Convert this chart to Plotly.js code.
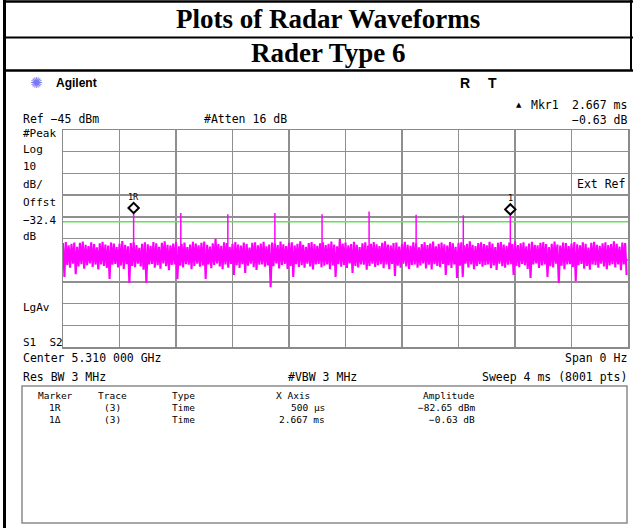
<!DOCTYPE html>
<html><head><meta charset="utf-8">
<script src="https://cdn.plot.ly/plotly-3.0.1.min.js"></script>
<style>html,body{margin:0;padding:0;background:#fff;}#chart{width:633px;height:528px;}</style>
</head><body><div id="chart"></div>
<script>
// ---- data ----
const sweepMs = [0, 4];
const ampRange = [-145, -45];
const displayLine = -87.3;
const pulseTimes = [0.500, 0.834, 1.167, 1.500, 1.834, 2.167, 2.500, 2.834, 3.167];
const pulsePeaks = [-82.65, -83.2, -83.8, -83.2, -83.8, -82.6, -84.0, -84.3, -83.28];
const pulseBase = -101;
const markerTimes = [0.500, 3.167];
const markerAmps = [-82.65, -83.28];
const markerLabels = ['1R', '1'];
const noiseTop = [
-97.1,-96.6,-98.2,-97.4,-96.9,-98.8,-97.0,-96.4,-97.9,-98.5,
-96.8,-97.6,-99.1,-97.2,-96.5,-97.8,-98.3,-96.9,-97.3,-98.9,
-97.5,-96.2,-97.9,-98.6,-97.1,-96.7,-98.0,-99.3,-97.4,-96.8,
-97.7,-98.4,-96.6,-97.2,-98.8,-97.0,-96.3,-97.9,-98.2,-97.3,
-96.7,-98.6,-97.5,-96.9,-99.0,-97.8,-96.5,-97.3,-98.1,-97.0,
-96.4,-97.9,-98.7,-97.2,-95.2,-97.6,-98.4,-96.8,-97.1,-98.9,
-97.4,-96.6,-97.8,-98.3,-96.9,-97.5,-99.2,-97.0,-96.7,-98.1,
-97.3,-96.5,-98.6,-97.8,-96.9,-97.2,-98.0,-96.4,-97.7,-98.5,
-97.0,-96.8,-98.2,-97.4,-96.3,-97.9,-98.8,-97.1,-96.6,-97.6,
-98.4,-97.2,-96.7,-98.0,-97.5,-96.4,-97.8,-98.6,-95.2,-97.3,
-96.9,-98.1,-97.6,-96.5,-97.9,-99.0,-97.2,-96.8,-98.3,-97.4,
-96.6,-97.7,-98.5,-97.0,-96.3,-97.8,-98.2,-97.1,-96.9,-98.7,
-97.4,-96.5,-97.9,-98.4,-96.8,-97.2,-99.1,-97.6,-96.7,-98.0,
-97.3,-96.4,-98.6,-97.5,-96.9,-97.7,-98.3,-96.6,-97.2,-98.8,
-97.0,-96.7,-98.1,-97.4,-96.3,-97.9,-98.5,-97.1,-96.8,-97.6,
-98.2,-96.5,-97.3,-98.9,-97.0,-96.6,-97.8,-98.4,-96.9,-97.5,
-96.4,-98.0,-97.2,-96.8,-98.6,-97.3,-96.5,-97.9,-98.2,-97.0,
-96.7,-97.6,-99.0,-97.4,-96.4,-97.8,-98.3,-96.9,-97.1,-98.5,
-97.3,-96.6,-97.7,-98.1,-96.8,-97.5,-99.2,-97.0,-96.5,-97.9,
-98.4,-97.2,-96.7,-98.0,-97.6,-96.3,-97.4,-98.7,-96.9,-97.1];
const noiseBottom = [
-112.7,-107.2,-108.4,-106.6,-111.4,-107.9,-106.8,-108.9,-107.3,-106.5,
-108.1,-107.0,-109.3,-106.9,-107.6,-108.6,-113.7,-107.1,-106.7,-108.3,
-107.4,-109.0,-106.8,-115.5,-107.7,-108.2,-106.6,-107.9,-109.4,-115.5,
-107.0,-106.7,-108.5,-107.3,-108.9,-106.5,-107.8,-109.6,-107.2,-106.9,
-113.7,-107.5,-108.3,-106.8,-107.1,-109.2,-107.6,-106.6,-108.0,-107.4,
-113.7,-106.9,-108.7,-107.2,-106.5,-107.9,-109.1,-107.0,-108.4,-106.7,
-111.8,-107.3,-108.6,-106.8,-110.9,-107.5,-106.6,-108.2,-109.5,-107.1,
-106.9,-108.0,-107.4,-117.4,-107.8,-106.5,-108.8,-107.2,-106.7,-109.0,
-107.6,-112.7,-106.8,-108.1,-107.3,-108.5,-106.6,-107.9,-109.3,-107.0,
-106.7,-108.2,-107.5,-106.9,-109.1,-107.4,-112.7,-106.8,-108.0,-107.2,
-108.6,-106.5,-110.9,-107.7,-108.3,-106.9,-107.1,-109.4,-107.6,-106.6,
-108.1,-107.3,-106.8,-108.7,-107.0,-109.2,-106.7,-112.3,-107.5,-108.4,
-106.6,-107.9,-109.0,-107.2,-106.9,-108.5,-107.4,-106.5,-108.8,-107.1,
-109.3,-106.8,-107.6,-108.2,-106.7,-111.8,-107.3,-108.6,-106.9,-113.2,
-107.5,-112.7,-106.6,-108.3,-107.0,-109.1,-107.7,-106.8,-108.0,-107.2,
-106.9,-108.7,-107.4,-109.5,-106.6,-107.8,-108.4,-107.1,-106.8,-111.8,
-107.6,-108.2,-106.7,-107.3,-109.0,-113.2,-107.0,-106.5,-108.6,-107.4,
-106.9,-112.7,-107.8,-108.3,-106.6,-115.5,-107.5,-109.2,-107.0,-106.8,
-108.1,-114.6,-107.3,-106.7,-108.9,-107.6,-109.4,-106.9,-107.2,-108.5,
-106.6,-107.9,-109.1,-107.4,-106.8,-108.3,-107.0,-109.6,-106.9,-111.8];

// ---- build traces ----
const n = noiseTop.length;
const dx = (sweepMs[1] - sweepMs[0]) / n;
const nx = [], ny = [];
for (let i = 0; i < n; i++) {
  nx.push(sweepMs[0] + i * dx); ny.push(noiseTop[i]);
  nx.push(sweepMs[0] + (i + 0.5) * dx); ny.push(noiseBottom[i]);
}
const px_ = [], py_ = [];
pulseTimes.forEach((t, i) => { px_.push(t, t, null); py_.push(pulseBase, pulsePeaks[i], null); });

const MAG = '#ff00ff';
const traces = [
  {x: sweepMs, y: [displayLine, displayLine], mode: 'lines', line: {color: '#66e05a', width: 1.6}, hoverinfo: 'skip'},
  {x: nx, y: ny, mode: 'lines', line: {color: MAG, width: 2.1}, hoverinfo: 'skip'},
  {x: px_, y: py_, mode: 'lines', line: {color: MAG, width: 1.5}, hoverinfo: 'skip'},
  {x: markerTimes, y: markerAmps.map(a => a + 1.7), mode: 'markers',
   marker: {symbol: 'diamond-open', size: 8, color: '#000', line: {width: 2, color: '#000'}}, hoverinfo: 'skip'}
];

// ---- pixel -> paper helpers for decorations ----
const L = 63, T = 130, W = 565, H = 217;
const pX = x => (x - L) / W;
const pY = y => (T + H - y) / H;
const MONO = 'DejaVu Sans Mono';
function txt(s, x, y, anchor, size, extra) {
  return Object.assign({text: s, xref: 'paper', yref: 'paper', x: pX(x), y: pY(y), xanchor: anchor,
    yanchor: 'middle', showarrow: false, borderpad: 0, font: {family: MONO, size: size || 11.5, color: '#000'}}, extra || {});
}
const ann = [
  txt('<b>Plots of Radar Waveforms</b>', 328, 19, 'center', 27, {font: {family: 'Liberation Serif', size: 27, color: '#000'}}),
  txt('<b>Rader Type 6</b>', 328, 53, 'center', 27, {font: {family: 'Liberation Serif', size: 27, color: '#000'}}),
  txt('✺', 36, 83, 'center', 15, {font: {family: 'DejaVu Sans', size: 15, color: '#7878f0'}}),
  txt('<b>Agilent</b>', 55, 83, 'left', 12, {font: {family: 'Liberation Sans', size: 12, color: '#000'}}),
  txt('<b>R</b>', 465, 83, 'center', 14, {font: {family: 'Liberation Sans', size: 14, color: '#000'}}),
  txt('<b>T</b>', 492.5, 83, 'center', 14, {font: {family: 'Liberation Sans', size: 14, color: '#000'}}),
  txt('▲', 519, 105, 'center', 7, {font: {family: 'DejaVu Sans', size: 7, color: '#000'}}),
  txt('Mkr1', 530, 105, 'left'),
  txt('2.667 ms', 628, 105, 'right'),
  txt('Ref −45 dBm', 22, 119, 'left'),
  txt('#Atten 16 dB', 203, 119, 'left'),
  txt('−0.63 dB', 628, 120, 'right'),
  txt('#Peak', 22, 133, 'left', 11),
  txt('Log', 22, 149, 'left', 11),
  txt('10', 22, 166, 'left', 11),
  txt('dB/', 22, 184, 'left', 11),
  txt('Offst', 22, 202, 'left', 11),
  txt('−32.4', 22, 220, 'left', 11),
  txt('dB', 22, 236, 'left', 11),
  txt('LgAv', 22, 307, 'left', 11),
  txt('S1  S2', 22, 342, 'left', 11),
  txt('Ext Ref', 626, 184, 'right'),
  txt('Center 5.310 000 GHz', 22, 358, 'left'),
  txt('Span 0 Hz', 628, 358, 'right'),
  txt('Res BW 3 MHz', 22, 377, 'left'),
  txt('#VBW 3 MHz', 287, 377, 'left'),
  txt('Sweep 4 ms (8001 pts)', 628, 377, 'right'),
  txt('Marker', 55, 395, 'center', 9.5),
  txt('Trace', 112, 395, 'center', 9.5),
  txt('Type', 183, 395, 'center', 9.5),
  txt('X Axis', 275, 395, 'left', 9.5),
  txt('Amplitude', 476, 395, 'right', 9.5),
  txt('1R', 55, 407, 'center', 9.5),
  txt('(3)', 112, 407, 'center', 9.5),
  txt('Time', 183, 407, 'center', 9.5),
  txt('500 µs', 326, 407, 'right', 9.5),
  txt('−82.65 dBm', 476, 407, 'right', 9.5),
  txt('1Δ', 55, 419, 'center', 9.5),
  txt('(3)', 112, 419, 'center', 9.5),
  txt('Time', 183, 419, 'center', 9.5),
  txt('2.667 ms', 326, 419, 'right', 9.5),
  txt('−0.63 dB', 476, 419, 'right', 9.5)
];
markerTimes.forEach((t, i) => ann.push({text: markerLabels[i], x: t, y: markerAmps[i], xref: 'x', yref: 'y',
  yshift: 15, showarrow: false, font: {family: MONO, size: 8.5, color: '#000'}}));

function hline(y, x0, x1, w, c) { return {type: 'line', xref: 'paper', yref: 'paper', x0: pX(x0), x1: pX(x1), y0: pY(y), y1: pY(y), line: {color: c, width: w}}; }
function vline(x, y0, y1, w, c) { return {type: 'line', xref: 'paper', yref: 'paper', x0: pX(x), x1: pX(x), y0: pY(y0), y1: pY(y1), line: {color: c, width: w}}; }
const shapes = [
  hline(1.5, 3, 633, 2.5, '#000'),
  hline(37.5, 3, 633, 2, '#000'),
  hline(70.5, 3, 633, 2.5, '#000'),
  vline(4.5, 0, 528, 3, '#000'),
  vline(631, 0, 71, 2, '#000'),
  {type: 'rect', xref: 'paper', yref: 'paper', x0: pX(22), x1: pX(627), y0: pY(386), y1: pY(523), line: {color: '#8a8a8a', width: 1.5}}
];

const layout = {
  width: 633, height: 528,
  margin: {l: 63, r: 5, t: 130, b: 181, pad: 0},
  paper_bgcolor: '#fff', plot_bgcolor: '#fff',
  showlegend: false,
  xaxis: {range: sweepMs, dtick: 0.4, tick0: 0, showgrid: true, gridcolor: '#8f8f8f', gridwidth: 1.5,
    zeroline: false, showticklabels: false, ticks: '', showline: true, mirror: true, linecolor: '#8a8a8a', linewidth: 1.5},
  yaxis: {range: ampRange, dtick: 10, tick0: -45, showgrid: true, gridcolor: '#8f8f8f', gridwidth: 1.5,
    zeroline: false, showticklabels: false, ticks: '', showline: true, mirror: true, linecolor: '#8a8a8a', linewidth: 1.5},
  annotations: ann,
  shapes: shapes
};
Plotly.newPlot('chart', traces, layout, {staticPlot: true, displayModeBar: false});
</script></body></html>
